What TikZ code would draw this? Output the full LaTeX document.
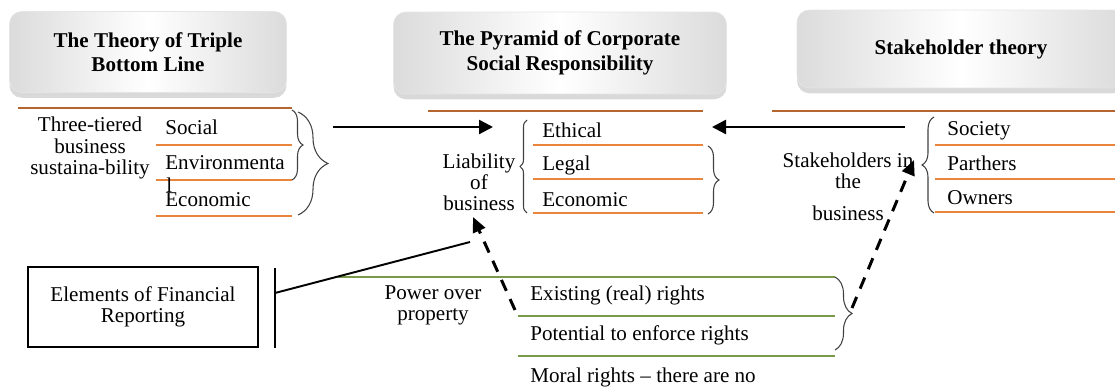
\documentclass[tikz,border=0pt]{standalone}
\usepackage{fontspec}
\setmainfont{Liberation Serif}
\usetikzlibrary{arrows.meta}
\usetikzlibrary{decorations.pathreplacing}
\usetikzlibrary{shadows}

\definecolor{rulebrown}{HTML}{B5652F}
\definecolor{ruleorange}{HTML}{E8843C}
\definecolor{rulegreen}{HTML}{7A9A4A}

\tikzset{
theory/.style={rounded corners=7pt, draw=gray!20, left color=gray!28, right color=gray!28, middle color=white,
    drop shadow={shadow xshift=0pt, shadow yshift=-3pt, opacity=0.3}, align=center,
    font=\fontsize{12}{14}\selectfont\bfseries},
term/.style={align=center, inner sep=0pt},
item/.style={anchor=west, inner sep=0pt},
curly/.style={decorate, decoration={brace, amplitude=#1}, draw=black!75, line width=0.6pt},
solidarrow/.style={line width=1.4pt, -{Triangle[length=2.8mm, width=2.8mm]}},
dasharrow/.style={line width=1.7pt, dash pattern=on 2.4mm off 1.8mm, -{Triangle[length=3mm, width=2.6mm]}}
}

\begin{document}
\begin{tikzpicture}[x=0.02cm, y=-0.02cm, font=\fontsize{12}{12}\selectfont]
    \useasboundingbox (0,0) rectangle (1115,388);
    \clip (0,0) rectangle (1115,388);

    % the three theories
    \node[theory, minimum width=5.54cm, minimum height=1.62cm] (H1) at (148,52) {The Theory of Triple\\Bottom Line};
    \node[theory, minimum width=6.66cm, minimum height=1.64cm] (H2) at (560,53) {The Pyramid of Corporate\\Social Responsibility};
    \node[theory, minimum width=6.56cm, minimum height=1.56cm] (H3) at (961,49) {Stakeholder theory};

    % rules under the headings
    \draw[rulebrown, line width=1.4pt] (18,108) -- (292,108);
    \draw[rulebrown, line width=1.4pt] (428,111) -- (703,111);
    \draw[rulebrown, line width=1pt] (772,111) -- (1115,111);
    \foreach \y in {145,180,216} \draw[ruleorange, line width=1.2pt] (156,\y) -- (292,\y);
    \foreach \y in {145,179,213} \draw[ruleorange, line width=1.2pt] (533,\y) -- (703,\y);
    \foreach \y in {145,179,212} \draw[ruleorange, line width=0.9pt] (935,\y) -- (1115,\y);
    \draw[rulegreen, line width=0.8pt] (338,277) -- (835,277);
    \foreach \y in {316,356} \draw[rulegreen, line width=0.8pt] (518,\y) -- (835,\y);

    % triple bottom line
    \node[term] (T1) at (90,148) {Three-tiered\\business\\sustaina-bility};
    \node[item] (S1) at (165,127) {Social};
    \node[item] (S2) at (165,163) {Environmenta};
    \node[item] (S3) at (166,185) {l};
    \node[item] (S4) at (165,200) {Economic};
    \draw[curly=0.22cm] (292,110) -- (292,180);
    \draw[curly=0.6cm] (298,112) -- (298,215);

    % pyramid of CSR
    \node[term] (T2) at (479,182) {Liability\\of\\business};
    \node[item] (P1) at (542,130) {Ethical};
    \node[item] (P2) at (542,165) {Legal};
    \node[item] (P3) at (542,200) {Economic};
    \draw[curly=0.14cm] (527,213) -- (527,120);
    \draw[curly=0.22cm] (708,146) -- (708,214);

    % stakeholders
    \node[term] (T3) at (848,187) {Stakeholders in\\the\\[6pt]business};
    \node[item] (R1) at (947,131) {Society};
    \node[item] (R2) at (947,163) {Parthers};
    \node[item] (R3) at (947,198) {Owners};
    \draw[curly=0.24cm] (934,213) -- (934,117);

    % financial reporting
    \node[draw, line width=1.2pt, minimum width=4.6cm, minimum height=1.6cm, align=center] (F) at (143,307) {Elements of Financial\\Reporting};
    \coordinate (B1) at (275,268);
    \coordinate (B2) at (275,348);
    \coordinate (B3) at (275,293);
    \coordinate (B4) at (470,242);
    \draw[line width=1.2pt] (B1) -- (B2);
    \draw[line width=1.1pt] (B3) -- (B4);

    \node[term] (W) at (433,305) {Power over\\property};
    \node[item] (W1) at (530,295) {Existing (real) rights};
    \node[item] (W2) at (530,335) {Potential to enforce rights};
    \node[item] (W3) at (530,377) {Moral rights – there are no};
    \draw[curly=0.34cm] (835,277) -- (835,350);

    % arrows
    \coordinate (A1) at (333,127);
    \coordinate (A2) at (493,127);
    \coordinate (A3) at (905,127);
    \coordinate (A4) at (712,127);
    \draw[solidarrow] (A1) -- (A2);
    \draw[solidarrow] (A3) -- (A4);

    \coordinate (D1) at (515,310);
    \coordinate (D2) at (473,217);
    \coordinate (D3) at (852,308);
    \coordinate (D4) at (914,160);
    \draw[dasharrow] (D1) -- (D2);
    \draw[dasharrow] (D3) -- (D4);

\end{tikzpicture}
\end{document}
